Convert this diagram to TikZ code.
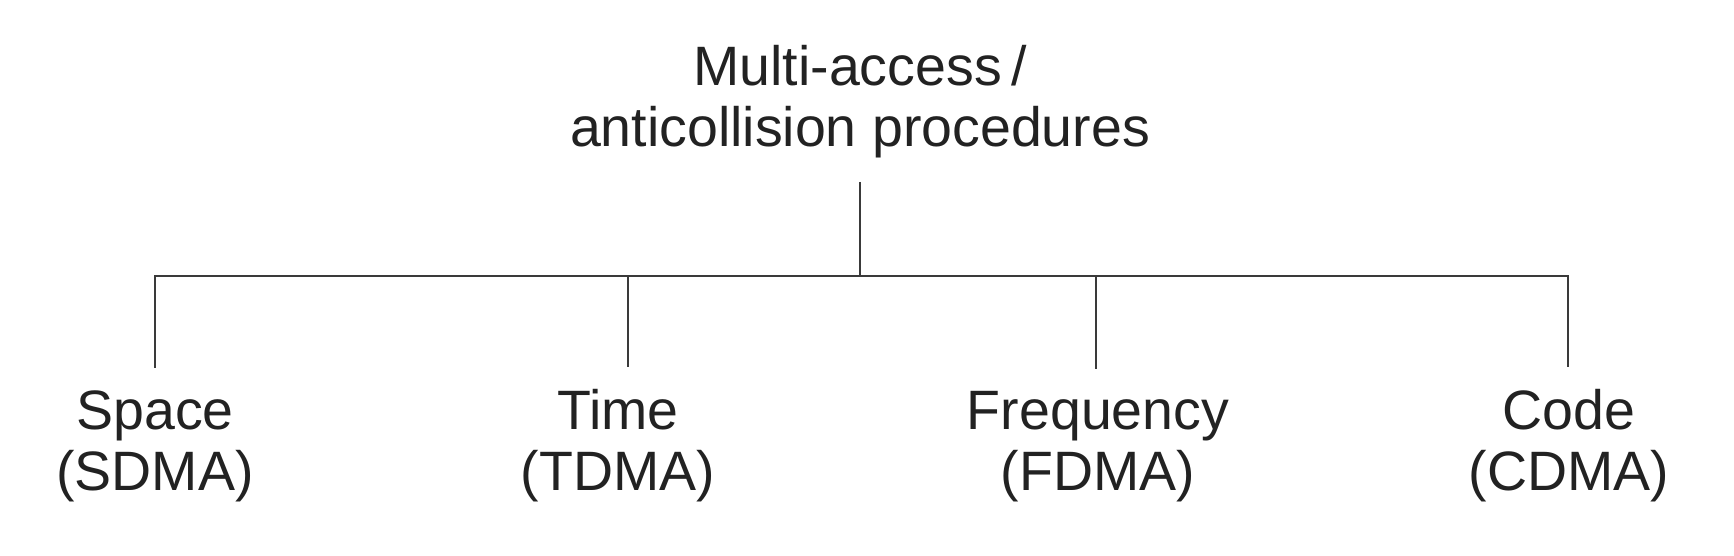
\documentclass[tikz,border=0pt]{standalone}
\usepackage{fontspec}
\setmainfont{Liberation Sans}
\definecolor{ink}{HTML}{222222}
\definecolor{linec}{HTML}{3A3A3A}
\begin{document}
\begin{tikzpicture}[x=0.5pt,y=-0.5pt,
  lbl/.style={align=center, inner sep=0pt, text=ink, font=\fontsize{27.75}{30.5}\selectfont},
  conn/.style={draw=linec, line width=1pt}]
\useasboundingbox (0,0) rectangle (1734,556);
\node[lbl, anchor=base] (top) at (860,147) {Multi-access\,/\\anticollision procedures};
\node[lbl, anchor=base] (space) at (155,490) {Space\\(SDMA)};
\node[lbl, anchor=base] (time) at (618,490) {Time\\(TDMA)};
\node[lbl, anchor=base] (freq) at (1098,490) {Frequency\\(FDMA)};
\node[lbl, anchor=base] (code) at (1569,490) {Code\\(CDMA)};
\coordinate (bar) at (860,276);
\draw[conn, shorten <=11.5pt] (top.south) -- (bar);
\draw[conn, shorten >=10.8pt] (bar) -| (space.north);
\draw[conn, shorten >=10.8pt] (bar) -| ([xshift=5pt]time.north);
\draw[conn, shorten >=10.8pt] (bar) -| ([xshift=-1pt]freq.north);
\draw[conn, shorten >=10.8pt] (bar) -| ([xshift=-0.5pt]code.north);
\end{tikzpicture}
\end{document}
